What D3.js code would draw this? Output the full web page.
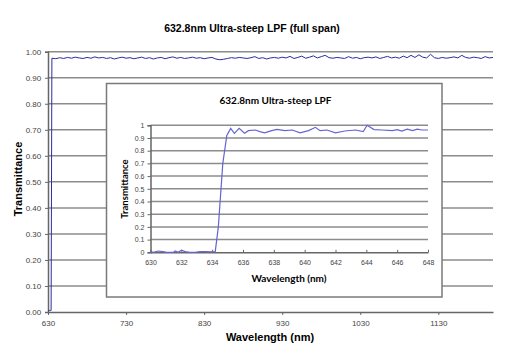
<!DOCTYPE html>
<html><head><meta charset="utf-8">
<script src="https://cdn.jsdelivr.net/npm/d3@7"></script>
<style>
html,body{margin:0;padding:0;background:#fff;}
svg{display:block;}
</style></head>
<body>
<svg id="c" width="510" height="360"></svg>
<script>
// ---------- DATA ----------
const mainTitle = "632.8nm Ultra-steep LPF (full span)";
const insetTitle = "632.8nm Ultra-steep LPF";
const yLabel = "Transmittance";
const xLabel = "Wavelength (nm)";

const mainXTicks = [630, 730, 830, 930, 1030, 1130];
const mainYTicks = [0, 0.1, 0.2, 0.3, 0.4, 0.5, 0.6, 0.7, 0.8, 0.9, 1.0];
const insetXTicks = [630, 632, 634, 636, 638, 640, 642, 644, 646, 648];
const insetYTicks = [0, 0.1, 0.2, 0.3, 0.4, 0.5, 0.6, 0.7, 0.8, 0.9, 1];

// full-span spectrum: blocking edge then 5 nm samples 635..1200
const mainEdgeWl = [630, 631, 632, 633, 634, 634.5];
const mainEdgeT  = [0.005, 0.004, 0.008, 0.005, 0.006, 0.5];
const mainWl = d3.range(635, 1201, 5);
const mainT = [
 0.975,0.973,0.977,0.974,0.978,0.975,0.979,0.976,0.974,0.978,
 0.975,0.980,0.976,0.978,0.974,0.977,0.972,0.976,0.979,0.975,
 0.977,0.973,0.976,0.979,0.974,0.977,0.972,0.976,0.978,0.973,
 0.977,0.980,0.975,0.978,0.974,0.976,0.979,0.975,0.977,0.973,
 0.976,0.978,0.972,0.969,0.971,0.974,0.977,0.975,0.978,0.976,
 0.974,0.977,0.981,0.974,0.977,0.972,0.976,0.978,0.975,0.979,
 0.976,0.982,0.974,0.978,0.983,0.975,0.979,0.984,0.976,0.981,
 0.986,0.977,0.975,0.978,0.976,0.974,0.981,0.975,0.978,0.973,
 0.977,0.979,0.976,0.980,0.974,0.978,0.982,0.976,0.979,0.975,
 0.983,0.977,0.986,0.978,0.988,0.979,0.976,0.990,0.977,0.974,
 0.978,0.975,0.977,0.980,0.976,0.986,0.978,0.975,0.979,0.977,
 0.974,0.981,0.976,0.978
];

// zoomed edge spectrum 630..648 nm
const insetWl = [630,630.2,630.5,630.8,631.05,631.5,631.6,631.8,632.0,632.25,632.55,632.9,633.2,633.55,634.0,634.2,
  634.4,634.69,634.95,635.2,635.44,635.75,636.1,636.35,636.8,637.1,637.4,637.8,638.2,638.73,639.2,639.7,640.25,640.7,
  641.0,641.45,642.0,642.6,643.3,643.8,644.05,644.5,645.0,645.7,646.0,646.3,646.65,647.0,647.3,647.6,648.0];
const insetT = [0.005,0,0.01,0.005,0,0,0.01,0,0.016,0.005,0,0,0.005,0.005,0.003,0.005,
  0.2,0.7,0.92,0.976,0.937,0.976,0.937,0.958,0.963,0.95,0.94,0.956,0.968,0.958,0.963,0.94,0.958,0.984,
  0.958,0.963,0.94,0.955,0.963,0.95,1.0,0.966,0.963,0.958,0.966,0.955,0.97,0.958,0.97,0.963,0.963];

// ---------- DRAW ----------
const svg = d3.select("#c");
const F = "'Liberation Sans', Arial, sans-serif";
const F2 = "Lato, 'Noto Sans', sans-serif";
const gridCol = "#8c8c8c";

// main chart
const mx = d3.scaleLinear().domain([630, 1200]).range([48, 493]);
const my = d3.scaleLinear().domain([0, 1]).range([312, 51.7]);

svg.append("text").attr("x", 252).attr("y", 31.5).attr("text-anchor", "middle")
  .attr("font-family", F).attr("font-weight", "bold").attr("font-size", 10.5).text(mainTitle);

const mg = svg.append("g");
mg.selectAll("line.grid").data(mainYTicks.slice(1)).join("line")
  .attr("x1", mx(630)).attr("x2", mx(1200)).attr("y1", d => my(d)).attr("y2", d => my(d))
  .attr("stroke", gridCol).attr("stroke-width", 1.5);

const mYAxis = mg.append("g").attr("transform", `translate(${mx(630)},0)`)
  .call(d3.axisLeft(my).tickValues(mainYTicks).tickFormat(d3.format(".2f")).tickSize(3));
const mXAxis = mg.append("g").attr("transform", `translate(0,${my(0)})`)
  .call(d3.axisBottom(mx).tickValues(mainXTicks).tickFormat(d3.format("d")).tickSize(3).tickSizeOuter(0));
[mYAxis, mXAxis].forEach(a => {
  a.select(".domain").attr("stroke", "#666").attr("stroke-width", 1.5);
  a.selectAll(".tick line").attr("stroke", "#666");
  a.selectAll("text").attr("font-family", F).attr("font-size", 8).attr("fill", "#444");
});
mXAxis.selectAll("text").attr("dy", "0.95em");
mYAxis.selectAll("text").attr("dx", "-0.1em");

const mainData = mainEdgeWl.map((w, i) => [w, mainEdgeT[i]]).concat(mainWl.map((w, i) => [w, mainT[i]]));
mg.append("path").datum(mainData)
  .attr("d", d3.line().x(d => mx(d[0])).y(d => my(d[1])))
  .attr("fill", "none").attr("stroke", "#2c2ca0").attr("stroke-width", 1);

svg.append("text").attr("transform", "translate(22,179) rotate(-90)").attr("text-anchor", "middle")
  .attr("font-family", F).attr("font-weight", "bold").attr("font-size", 11).text(yLabel);
svg.append("text").attr("x", 270).attr("y", 341).attr("text-anchor", "middle")
  .attr("font-family", F).attr("font-weight", "bold").attr("font-size", 11).text(xLabel);

// inset
svg.append("rect").attr("x", 106.5).attr("y", 83.5).attr("width", 335.5).attr("height", 213.5)
  .attr("fill", "#fff").attr("stroke", "#7a7a7a").attr("stroke-width", 1.5);

const ix = d3.scaleLinear().domain([630, 648]).range([150.5, 428]);
const iy = d3.scaleLinear().domain([0, 1]).range([252.3, 125.3]);
const ig = svg.append("g");

ig.append("text").attr("x", 275.5).attr("y", 103.5).attr("text-anchor", "middle")
  .attr("font-family", F2).attr("font-weight", "bold").attr("font-size", 10).text(insetTitle);

ig.selectAll("line.grid").data(insetYTicks.slice(1)).join("line")
  .attr("x1", ix(630)).attr("x2", ix(648)).attr("y1", d => iy(d)).attr("y2", d => iy(d))
  .attr("stroke", gridCol).attr("stroke-width", 1.5);

const iYAxis = ig.append("g").attr("transform", `translate(${ix(630)},0)`)
  .call(d3.axisLeft(iy).tickValues(insetYTicks).tickFormat(d => d3.format("")(d)).tickSize(3));
const iXAxis = ig.append("g").attr("transform", `translate(0,${iy(0)})`)
  .call(d3.axisBottom(ix).tickValues(insetXTicks).tickFormat(d3.format("d")).tickSize(-2.5).tickSizeOuter(0));
[iYAxis, iXAxis].forEach(a => {
  a.select(".domain").attr("stroke", "#666").attr("stroke-width", 1.5);
  a.selectAll(".tick line").attr("stroke", "#666");
  a.selectAll("text").attr("font-family", F).attr("font-size", 7).attr("fill", "#444");
});
iXAxis.selectAll("text").attr("y", 8).attr("dy", "0.71em");

const insetData = insetWl.map((w, i) => [w, insetT[i]]);
ig.append("path").datum(insetData)
  .attr("d", d3.line().x(d => ix(d[0])).y(d => iy(d[1])))
  .attr("fill", "none").attr("stroke", "#6464d2").attr("stroke-width", 1.2);

ig.append("text").attr("transform", "translate(128,189) rotate(-90)").attr("text-anchor", "middle")
  .attr("font-family", F2).attr("font-weight", "bold").attr("font-size", 9.5).text(yLabel);
ig.append("text").attr("x", 289).attr("y", 282).attr("text-anchor", "middle")
  .attr("font-family", F2).attr("font-weight", "bold").attr("font-size", 10).text(xLabel);
</script>
</body></html>
